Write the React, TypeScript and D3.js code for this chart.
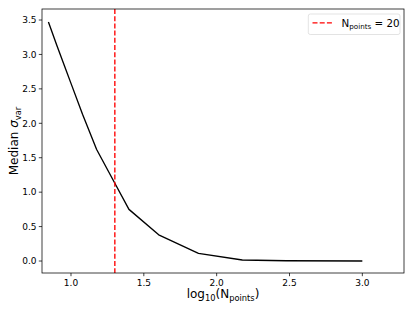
import React from "react";
import * as d3 from "d3";

const nPoints = [7, 8, 9, 10, 12, 15, 20, 25, 40, 75, 150, 300, 1000];
const medianSigma = [3.47, 3.13, 2.84, 2.58, 2.13, 1.62, 1.13, 0.75, 0.38, 0.11, 0.015, 0.004, 0.0];
const xTicks = [1.0, 1.5, 2.0, 2.5, 3.0];
const yTicks = [0.0, 0.5, 1.0, 1.5, 2.0, 2.5, 3.0, 3.5];
const markerN = 20;

const W = 415, H = 312;
const L = 42, R = 404, T = 9, B = 273;
const font = "DejaVu Sans, sans-serif";

export default function App() {
  const x = d3.scaleLinear().domain([0.801, 3.286]).range([L, R]);
  const y = d3.scaleLinear().domain([-0.174, 3.66]).range([B, T]);
  const line = d3
    .line<number>()
    .x((_, i) => x(Math.log10(nPoints[i])))
    .y((d) => y(d));
  const mx = x(Math.log10(markerN));
  return (
    <svg width={W} height={H} style={{ position: "absolute", left: 0, top: 0 }}>
      <rect x={0} y={0} width={W} height={H} fill="#fff" />
      <path d={line(medianSigma) || ""} fill="none" stroke="#000" strokeWidth={1.35} strokeLinejoin="round" />
      <line x1={mx} x2={mx} y1={T} y2={B} stroke="#ff0000" strokeWidth={1.35} strokeDasharray="5,2.2" />
      <rect x={L} y={T} width={R - L} height={B - T} fill="none" stroke="#000" strokeWidth={0.75} />
      {xTicks.map((t) => (
        <g key={"x" + t}>
          <line x1={x(t)} x2={x(t)} y1={B} y2={B + 3.2} stroke="#000" strokeWidth={0.75} />
          <text x={x(t)} y={B + 13} fontSize={9} fontFamily={font} textAnchor="middle">
            {t.toFixed(1)}
          </text>
        </g>
      ))}
      {yTicks.map((t) => (
        <g key={"y" + t}>
          <line x1={L - 3.2} x2={L} y1={y(t)} y2={y(t)} stroke="#000" strokeWidth={0.75} />
          <text x={L - 5.5} y={y(t) + 3.3} fontSize={9} fontFamily={font} textAnchor="end">
            {t.toFixed(1)}
          </text>
        </g>
      ))}
      <text x={(L + R) / 2} y={298} fontSize={12} fontFamily={font} textAnchor="middle">
        log<tspan fontSize={8.3} dy={2.5}>10</tspan>
        <tspan dy={-2.5}>(N</tspan>
        <tspan fontSize={8.3} dy={2.5}>points</tspan>
        <tspan dy={-2.5}>)</tspan>
      </text>
      <text
        transform={`translate(18, ${(T + B) / 2}) rotate(-90)`}
        fontSize={12}
        fontFamily={font}
        textAnchor="middle"
      >
        Median <tspan fontStyle="italic">σ</tspan>
        <tspan fontSize={8.3} dy={2.5}>var</tspan>
      </text>
      <g>
        <rect x={308.3} y={14} width={91.7} height={20.5} rx={2} fill="#fff" fillOpacity={0.8} stroke="#d9d9d9" strokeWidth={0.75} />
        <line x1={312.5} x2={333} y1={22.8} y2={22.8} stroke="#ff0000" strokeWidth={1.35} strokeDasharray="5,2.2" />
        <text x={341.5} y={26.7} fontSize={10.3} fontFamily={font}>
          N<tspan fontSize={7.2} dy={1.8}>points</tspan>
          <tspan dy={-1.8}> = 20</tspan>
        </text>
      </g>
    </svg>
  );
}
